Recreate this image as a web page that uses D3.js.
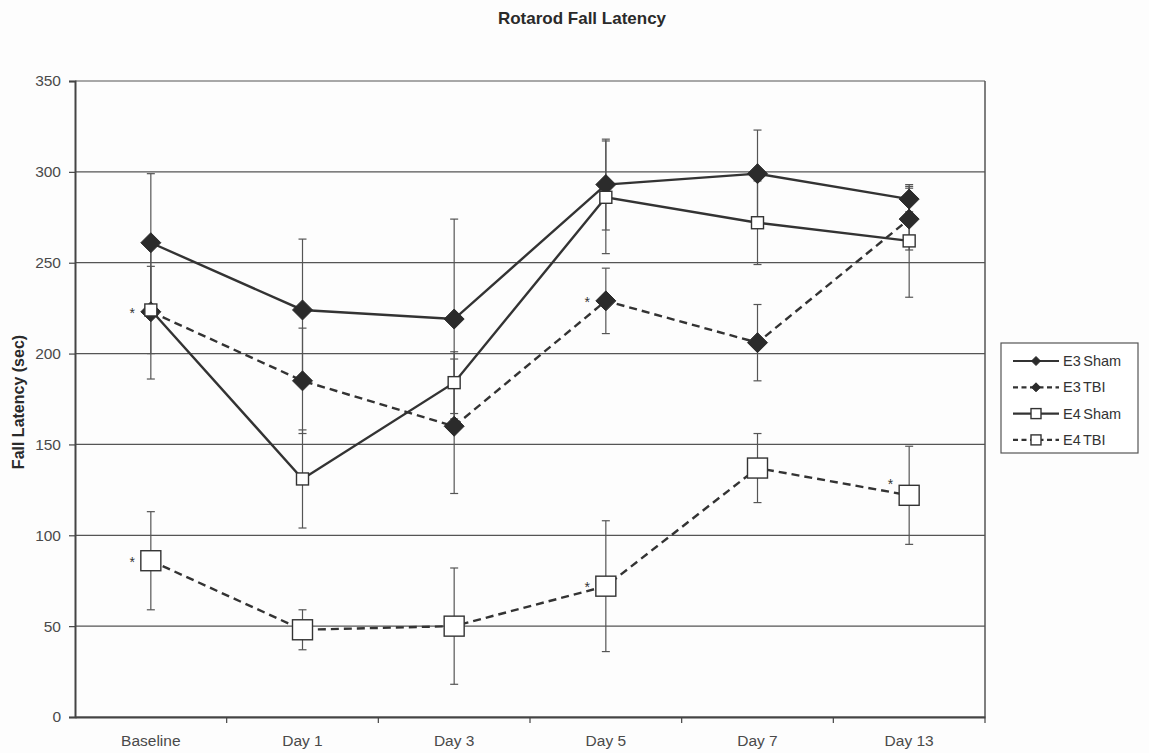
<!DOCTYPE html>
<html>
<head>
<meta charset="utf-8">
<script src="https://cdn.jsdelivr.net/npm/d3@7"></script>
<style>
  html, body { margin: 0; padding: 0; background: #fdfdfd; }
  svg { display: block; font-family: "Liberation Sans", Arial, sans-serif; }
</style>
</head>
<body>
<svg id="chart" width="1149" height="753"></svg>
<script>
// Time points of the rotarod test
const categories = ["Baseline", "Day 1", "Day 3", "Day 5", "Day 7", "Day 13"];
const yTicks = [0, 50, 100, 150, 200, 250, 300, 350];

// Mean fall latency (sec) and error (sec) per group
const e3Sham    = [261, 224, 219, 293, 299, 285];
const e3ShamErr = [38, 39, 55, 25, 24, 7];
const e3Tbi     = [223, 185, 160, 229, 206, 274];
const e3TbiErr  = [37, 29, 37, 18, 21, 17];
const e4Sham    = [224, 131, 184, 286, 272, 262];
const e4ShamErr = [24, 27, 17, 31, 23, 31];
const e4Tbi     = [86, 48, 50, 72, 137, 122];
const e4TbiErr  = [27, 11, 32, 36, 19, 27];

// Significance markers: group and time point
const significance = [
  { series: "E3 TBI", cat: "Baseline", place: "left" },
  { series: "E4 TBI", cat: "Baseline", place: "left" },
  { series: "E3 TBI", cat: "Day 5", place: "left" },
  { series: "E4 TBI", cat: "Day 5", place: "left" },
  { series: "E4 TBI", cat: "Day 13", place: "upperLeft" }
];

const series = [
  { name: "E3 Sham", values: e3Sham, err: e3ShamErr, dashed: false, shape: "diamond", size: 10 },
  { name: "E3 TBI",  values: e3Tbi,  err: e3TbiErr,  dashed: true,  shape: "diamond", size: 10 },
  { name: "E4 Sham", values: e4Sham, err: e4ShamErr, dashed: false, shape: "square",  size: 6 },
  { name: "E4 TBI",  values: e4Tbi,  err: e4TbiErr,  dashed: true,  shape: "square",  size: 10 }
];

const svg = d3.select("#chart");
const plot = { left: 75, right: 985, top: 81, bottom: 717 };
const ink = "#333";
const labelInk = "#4a4a4a";

const x = d3.scaleBand().domain(categories).range([plot.left, plot.right]).padding(0);
const cx = c => x(c) + x.bandwidth() / 2;
const y = d3.scaleLinear().domain([0, 350]).range([plot.bottom, plot.top]);

// Title
svg.append("text")
  .attr("x", 582).attr("y", 24)
  .attr("text-anchor", "middle")
  .attr("font-size", 17).attr("font-weight", "bold").attr("fill", "#2a2a2a")
  .text("Rotarod Fall Latency");

// Y axis title
svg.append("text")
  .attr("transform", `translate(24,402) rotate(-90)`)
  .attr("text-anchor", "middle")
  .attr("font-size", 16).attr("font-weight", "bold").attr("fill", "#2a2a2a")
  .text("Fall Latency (sec)");

// Horizontal gridlines
svg.append("g")
  .selectAll("line")
  .data(yTicks)
  .join("line")
  .attr("x1", plot.left).attr("x2", plot.right)
  .attr("y1", d => y(d)).attr("y2", d => y(d))
  .attr("stroke", "#555").attr("stroke-width", 1.2);

// Right border of plot area
svg.append("line")
  .attr("x1", plot.right).attr("x2", plot.right)
  .attr("y1", plot.top).attr("y2", plot.bottom)
  .attr("stroke", "#555").attr("stroke-width", 1.5);

// Y axis
const yAxis = svg.append("g")
  .attr("transform", `translate(${plot.left},0)`)
  .call(d3.axisLeft(y).tickValues(yTicks).tickSize(6).tickPadding(8));
yAxis.select(".domain").attr("stroke", "#444").attr("stroke-width", 2);
yAxis.selectAll(".tick line").attr("stroke", "#444").attr("stroke-width", 1.2);
yAxis.selectAll(".tick text").attr("font-size", 15.5).attr("fill", labelInk)
  .attr("font-family", "Liberation Sans, Arial, sans-serif");

// X axis with ticks between categories
const xAxis = svg.append("g")
  .attr("transform", `translate(0,${plot.bottom})`)
  .call(d3.axisBottom(x).tickSize(0).tickPadding(18));
xAxis.select(".domain").attr("stroke", "#444").attr("stroke-width", 2);
xAxis.selectAll(".tick text").attr("font-size", 15.5).attr("fill", labelInk)
  .attr("font-family", "Liberation Sans, Arial, sans-serif");
svg.append("g")
  .selectAll("line")
  .data(categories)
  .join("line")
  .attr("x1", d => x(d) + x.bandwidth()).attr("x2", d => x(d) + x.bandwidth())
  .attr("y1", plot.bottom).attr("y2", plot.bottom + 6)
  .attr("stroke", "#444").attr("stroke-width", 1.2);

// Error bars
const errG = svg.append("g").attr("stroke", "#555").attr("stroke-width", 1.2);
series.forEach(s => {
  categories.forEach((c, i) => {
    const v = s.values[i], e = s.err[i], px = cx(c);
    errG.append("line").attr("x1", px).attr("x2", px).attr("y1", y(v + e)).attr("y2", y(v - e));
    [v + e, v - e].forEach(t => {
      errG.append("line").attr("x1", px - 4).attr("x2", px + 4).attr("y1", y(t)).attr("y2", y(t));
    });
  });
});

// Series lines
const line = d3.line().x(d => cx(d.c)).y(d => y(d.v));
series.forEach(s => {
  svg.append("path")
    .datum(categories.map((c, i) => ({ c, v: s.values[i] })))
    .attr("d", line)
    .attr("fill", "none")
    .attr("stroke", ink)
    .attr("stroke-width", 2.4)
    .attr("stroke-dasharray", s.dashed ? "8,5" : null);
});

// Marker drawing
function marker(g, shape, size, px, py) {
  if (shape === "diamond") {
    g.append("path")
      .attr("d", `M${px},${py - size}L${px + size},${py}L${px},${py + size}L${px - size},${py}Z`)
      .attr("fill", "#2b2b2b").attr("stroke", "#2b2b2b").attr("stroke-width", 1);
  } else {
    g.append("rect")
      .attr("x", px - size).attr("y", py - size)
      .attr("width", size * 2).attr("height", size * 2)
      .attr("fill", "#fff").attr("stroke", ink).attr("stroke-width", 1.4);
  }
}

series.forEach(s => {
  const g = svg.append("g");
  categories.forEach((c, i) => marker(g, s.shape, s.size, cx(c), y(s.values[i])));
});

// Significance asterisks
significance.forEach(a => {
  const s = series.find(d => d.name === a.series);
  const i = categories.indexOf(a.cat);
  const px = cx(a.cat), py = y(s.values[i]);
  const dy = a.place === "upperLeft" ? -6 : 6;
  svg.append("text")
    .attr("x", px - s.size - 6).attr("y", py + dy)
    .attr("text-anchor", "end")
    .attr("font-size", 14).attr("fill", "#333")
    .text("*");
});

// Legend
const legend = svg.append("g");
legend.append("rect")
  .attr("x", 1001).attr("y", 343).attr("width", 137).attr("height", 110)
  .attr("fill", "#fff").attr("stroke", "#555").attr("stroke-width", 1.2);
series.forEach((s, i) => {
  const ly = 361 + i * 26.3;
  legend.append("line")
    .attr("x1", 1013).attr("x2", 1059).attr("y1", ly).attr("y2", ly)
    .attr("stroke", ink).attr("stroke-width", 2.2)
    .attr("stroke-dasharray", s.dashed ? "5,3.5" : null);
  marker(legend, s.shape, s.shape === "diamond" ? 4.5 : 5, 1036, ly);
  legend.append("text")
    .attr("x", 1063).attr("y", ly + 5)
    .attr("font-size", 14.5).attr("fill", "#333")
    .attr("word-spacing", -1.5)
    .text(s.name);
});
</script>
</body>
</html>
